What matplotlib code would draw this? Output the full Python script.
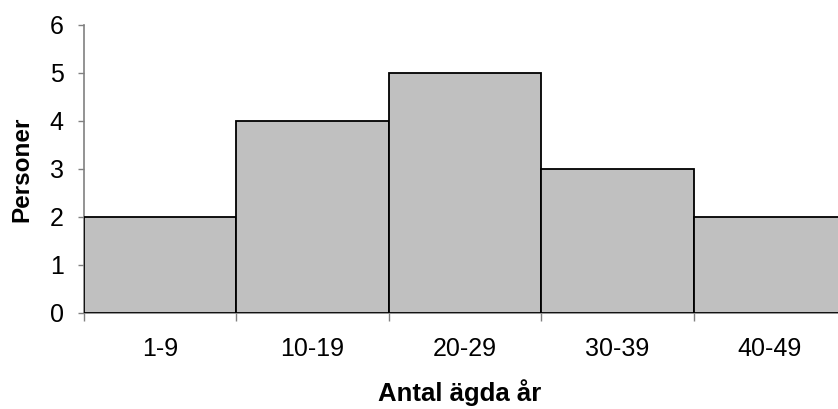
import matplotlib
matplotlib.use("Agg")
import matplotlib.pyplot as plt

categories = ["1-9", "10-19", "20-29", "30-39", "40-49"]
values = [2, 4, 5, 3, 2]
yticks = [0, 1, 2, 3, 4, 5, 6]

plt.rcParams['font.family'] = ['Liberation Sans', 'DejaVu Sans']

fig = plt.figure(figsize=(8.38, 4.09), dpi=100)
ax = fig.add_axes([84/838, 1-313/409, 762/838, 288/409])

x = list(range(len(categories)))
ax.bar(x, values, width=1.0, color="#C0C0C0", edgecolor="black", linewidth=1.3, zorder=3)

ax.set_xlim(-0.5, len(categories) - 0.5)
ax.set_ylim(0, 6)
ax.set_yticks(yticks)
ax.set_yticklabels([str(v) for v in yticks], fontsize=18)

ax.set_xticks(x)
ax.set_xticklabels(categories, fontsize=18)
ax.tick_params(axis='x', which='major', length=0, pad=17)
ax.set_xticks([i - 0.5 for i in range(len(categories) + 1)], minor=True)
ax.tick_params(axis='x', which='minor', length=6, width=1, color="#808080", direction='out')
ax.tick_params(axis='y', length=4.5, width=1, color="#808080", direction='out', pad=10)

for s in ['top', 'right']:
    ax.spines[s].set_visible(False)
for s in ['left', 'bottom']:
    ax.spines[s].set_color("#808080")
    ax.spines[s].set_linewidth(1.2)

ax.set_ylabel("Personer", fontsize=17.5, fontweight='bold')
ax.yaxis.label.set_va('center')
ax.yaxis.set_label_coords(-62/762, 0.5)
ax.set_xlabel("Antal ägda år", fontsize=18.5, fontweight='bold')
ax.xaxis.label.set_va('center')
ax.xaxis.set_label_coords((460-84)/762, -80/288)

fig.savefig("out.png", dpi=100)
